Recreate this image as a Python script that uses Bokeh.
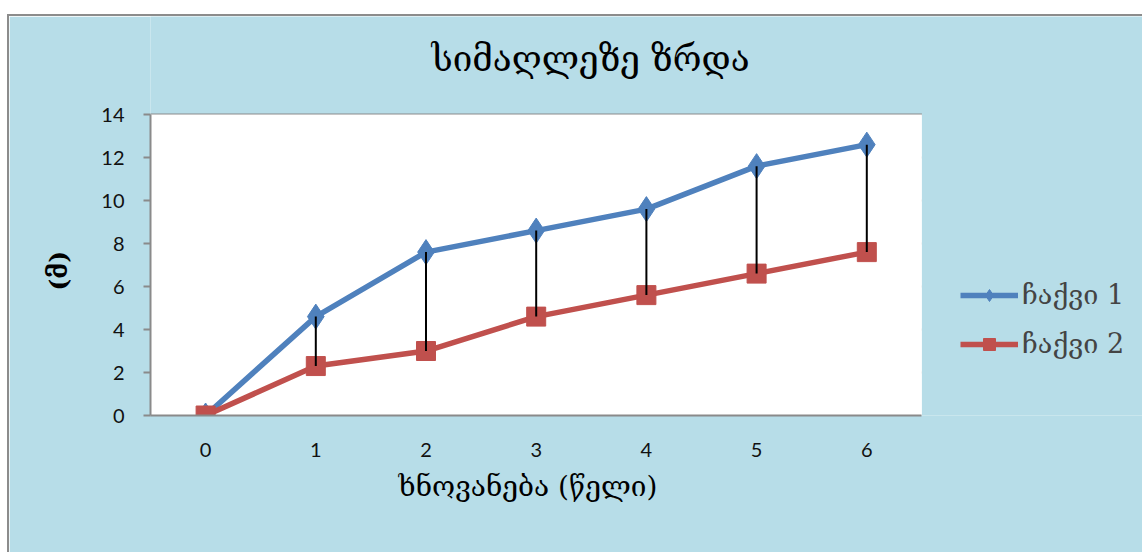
from bokeh.plotting import figure
from bokeh.models import Legend, LegendItem, Range1d, FixedTicker, ColumnDataSource, Title, BoxAnnotation, Label
from bokeh.embed import file_html
from bokeh.resources import INLINE

years = [0, 1, 2, 3, 4, 5, 6]
tree1 = [0, 4.6, 7.6, 8.6, 9.6, 11.6, 12.6]
tree2 = [0, 2.3, 3.0, 4.6, 5.6, 6.6, 7.6]
y_ticks = [0, 2, 4, 6, 8, 10, 12, 14]

title_text = "სიმაღლეზე ზრდა"
x_title = "ხნოვანება (წელი)"
y_title = "(მ)"
names = ["ჩაქვი 1", "ჩაქვი 2"]

GEO = "DejaVu Serif"
BG = "#B7DDE8"
BLUE = "#4F81BD"
RED = "#C0504D"
GRID = "#8A8A8A"

cat_lo, cat_hi = years[0] - 0.5, years[-1] + 0.5

# the frame spans the whole chart area; the white plot area is drawn inside it
p = figure(width=1135, height=538, output_backend="svg", toolbar_location=None,
           x_range=Range1d(cat_lo, 8.52), y_range=Range1d(0, 18.56),
           min_border_left=141, min_border_right=0, min_border_top=0, min_border_bottom=139)
p.margin = (14, 0, 0, 7)
p.styles = {"border-top": "2px solid #8C8C8C", "border-left": "2px solid #8C8C8C"}
p.border_fill_color = BG
p.background_fill_color = BG
p.outline_line_color = None

p.add_layout(BoxAnnotation(left=cat_lo, right=cat_hi, bottom=y_ticks[0], top=y_ticks[-1],
                           fill_color="white", fill_alpha=1, line_color=None, level="underlay"))

p.xgrid.grid_line_color = None
p.ygrid.grid_line_color = None
gy = y_ticks[1:]
p.segment(x0=[cat_lo] * len(gy), x1=[cat_hi] * len(gy), y0=gy, y1=gy,
          line_color=GRID, line_width=2, level="underlay")

p.yaxis.ticker = FixedTicker(ticks=y_ticks)
p.xaxis.ticker = FixedTicker(ticks=years)
p.yaxis.bounds = (y_ticks[0], y_ticks[-1])
p.xaxis.bounds = (cat_lo, cat_hi)

for ax in (p.xaxis[0], p.yaxis[0]):
    ax.axis_line_color = GRID
    ax.axis_line_width = 2
    ax.major_tick_line_color = GRID
    ax.major_tick_line_width = 2
    ax.minor_tick_line_color = None
    ax.major_label_text_font = "Lato"
    ax.major_label_text_font_size = "20px"
    ax.major_label_text_color = "#111111"

p.xaxis.major_tick_line_color = None
p.xaxis.major_tick_out = 0
p.xaxis.major_label_standoff = 27
p.yaxis.major_tick_out = 7
p.yaxis.major_tick_in = 0
p.yaxis.major_label_standoff = 19

l1 = p.line(years, tree1, line_color=BLUE, line_width=5.5)
m1 = p.scatter(years, tree1, marker="diamond", size=25, fill_color=BLUE, line_color=BLUE)
l2 = p.line(years, tree2, line_color=RED, line_width=5.5)
m2 = p.scatter(years, tree2, marker="square", size=19, fill_color=RED, line_color=RED)

src = ColumnDataSource(dict(x=years[1:], y1=tree1[1:], y2=tree2[1:]))
p.segment(x0="x", y0="y1", x1="x", y1="y2", source=src, line_color="black", line_width=2)

legend = Legend(items=[LegendItem(label=names[0], renderers=[l1, m1]),
                       LegendItem(label=names[1], renderers=[l2, m2])],
                location=(810, 56), orientation="vertical",
                background_fill_alpha=0, border_line_color=None,
                label_text_font=GEO, label_text_font_size="27px",
                glyph_width=58, glyph_height=30, spacing=18, padding=0, margin=0,
                label_standoff=4)
p.add_layout(legend)

p.add_layout(Label(x=440, y=357, x_units="screen", y_units="screen", text=title_text,
                   text_font=GEO, text_font_size="35px", text_align="center",
                   text_baseline="middle", text_color="black"))

p.add_layout(Title(text=x_title, align="left", offset=248, standoff=16,
                   text_font=GEO, text_font_size="28px", text_font_style="normal",
                   text_color="black"), "below")

p.add_layout(Title(text=y_title, align="left", offset=125, standoff=52,
                   text_font=GEO, text_font_size="25px", text_font_style="bold",
                   text_color="black"), "left")

open("out.html", "w").write(file_html(p, INLINE))
